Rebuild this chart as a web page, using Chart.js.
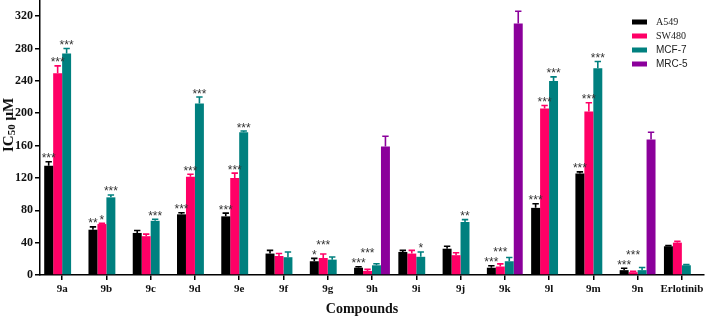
<!DOCTYPE html>
<html>
<head>
<meta charset="utf-8">
<script src="https://cdn.jsdelivr.net/npm/chart.js@4.4.1/dist/chart.umd.min.js"></script>
<style>
html,body{margin:0;padding:0;background:#fff;}
#wrap{width:707px;height:317px;}
</style>
</head>
<body>
<div id="wrap"><canvas id="c" width="707" height="317"></canvas></div>
<script>
const categories = ['9a','9b','9c','9d','9e','9f','9g','9h','9i','9j','9k','9l','9m','9n','Erlotinib'];
const yTicks = [0,40,80,120,160,200,240,280,320];

const a549     = [135, 56, 52, 75, 72.5, 26.5, 17, 9, 28.5, 32.5, 9, 83, 125.5, 6, 35.5];
const a549Err  = [5, 3.5, 3, 2, 4, 4, 3.5, 1.2, 2, 3, 2.5, 5, 2, 2.4, 0.8];
const a549Sig  = ['***','**','','***','***','','*','***','','','***','***','***','***',''];

const sw480    = [249.5, 63, 48, 121.5, 120, 23.5, 21, 5, 26.5, 24.5, 10.5, 206, 202, 3.5, 40];
const sw480Err = [9, 0.8, 2.5, 3, 6, 3, 5, 2, 4, 3, 3.3, 3.5, 11, 1.2, 1.6];
const sw480Sig = ['***','*','','***','***','','***','***','','','***','***','***','***',''];

const mcf7     = [274, 96, 67, 212, 176.5, 22, 19, 12, 22.5, 65.5, 17, 240, 255.5, 6, 12];
const mcf7Err  = [6, 3, 2, 8, 1.5, 6.5, 3.2, 2, 6, 3, 4.7, 5, 8.5, 3.3, 0.8];
const mcf7Sig  = ['***','***','***','***','***','','','','*','**','','***','***','',''];

const mrc5     = [null, null, null, null, null, null, null, 159, null, null, 311, null, null, 167.5, null];
const mrc5Err  = [null, null, null, null, null, null, null, 12.5, null, null, 15, null, null, 9, null];
const mrc5Sig  = ['','','','','','','','','','','','','','',''];

const seriesNames = ['A549','SW480','MCF-7','MRC-5'];
const colors = ['#000000','#FF0066','#00807F','#8B009B'];
const legendFonts = ['10px "Liberation Serif"','10px "Liberation Serif"','10px "Liberation Sans"','10px "Liberation Sans"'];

const values = [a549, sw480, mcf7, mrc5];
const errors = [a549Err, sw480Err, mcf7Err, mrc5Err];
const sigs = [a549Sig, sw480Sig, mcf7Sig, mrc5Sig];

const datasets = values.map((v,i)=>({
  label: seriesNames[i],
  data: v,
  errors: errors[i],
  sig: sigs[i],
  backgroundColor: colors[i],
  borderWidth: 0,
  categoryPercentage: 0.81,
  barPercentage: 1.0
}));

const errPlugin = {
  id: 'errbars',
  afterDatasetsDraw(chart){
    const ctx = chart.ctx, ys = chart.scales.y;
    const placed = {};
    chart.data.datasets.forEach((ds,i)=>{
      const meta = chart.getDatasetMeta(i);
      meta.data.forEach((el,j)=>{
        const v = ds.data[j];
        if (v == null) return;
        const e = ds.errors[j] || 0;
        const yTop = ys.getPixelForValue(v + e);
        ctx.save();
        ctx.strokeStyle = ds.backgroundColor;
        ctx.lineWidth = 1.6;
        ctx.beginPath();
        ctx.moveTo(el.x, el.y);
        ctx.lineTo(el.x, yTop);
        ctx.moveTo(el.x - 3.2, yTop);
        ctx.lineTo(el.x + 3.2, yTop);
        ctx.stroke();
        ctx.restore();
        const s = ds.sig[j];
        if (s) {
          ctx.save();
          ctx.font = '12px "Liberation Sans"';
          ctx.fillStyle = '#333';
          ctx.textAlign = 'center';
          ctx.textBaseline = 'alphabetic';
          const w = ctx.measureText(s).width;
          let y = yTop + 0.5;
          placed[j] = placed[j] || [];
          let moved = true;
          while (moved) {
            moved = false;
            for (const b of placed[j]) {
              const hOverlap = (el.x - w/2) < (b.x + b.w/2) && (el.x + w/2) > (b.x - b.w/2);
              if (hOverlap && Math.abs(y - b.y) < 9) { y = b.y - 10; moved = true; }
            }
          }
          placed[j].push({x: el.x, w: w, y: y});
          ctx.fillText(s, el.x, y);
          ctx.restore();
        }
      });
    });
  }
};

const decoPlugin = {
  id: 'deco',
  afterDraw(chart){
    const ctx = chart.ctx, ca = chart.chartArea;
    // legend
    ctx.save();
    chart.data.datasets.forEach((ds,i)=>{
      const yc = 22 + i*14;
      const bx = ca.right - 72;
      ctx.fillStyle = ds.backgroundColor;
      ctx.fillRect(bx, yc - 2.5, 15, 5);
      ctx.fillStyle = '#222';
      ctx.font = legendFonts[i];
      ctx.textAlign = 'left';
      ctx.textBaseline = 'middle';
      ctx.fillText(ds.label, bx + 24, yc + 0.5);
    });
    ctx.restore();
    // y title with subscript
    ctx.save();
    const cy = 125;
    ctx.translate(9, cy);
    ctx.rotate(-Math.PI/2);
    ctx.fillStyle = '#111';
    ctx.textBaseline = 'middle';
    const big = 'bold 15px "Liberation Serif"', small = 'bold 11px "Liberation Serif"';
    ctx.font = big; const w1 = ctx.measureText('IC').width; const w3 = ctx.measureText(' μM').width;
    ctx.font = small; const w2 = ctx.measureText('50').width;
    let x = -(w1 + w2 + w3)/2;
    ctx.font = big; ctx.textAlign = 'left'; ctx.fillText('IC', x, 0); x += w1;
    ctx.font = small; ctx.fillText('50', x, 3.5); x += w2;
    ctx.font = big; ctx.fillText(' μM', x, 0);
    ctx.restore();
    // x title
    ctx.save();
    ctx.font = 'bold 14px "Liberation Serif"';
    ctx.fillStyle = '#111';
    ctx.textAlign = 'center';
    ctx.textBaseline = 'middle';
    ctx.fillText('Compounds', (ca.left + ca.right)/2 - 10, 309);
    ctx.restore();
  }
};

new Chart(document.getElementById('c'), {
  type: 'bar',
  data: { labels: categories, datasets: datasets },
  options: {
    responsive: false,
    animation: false,
    devicePixelRatio: 1,
    layout: { padding: { top: 0, right: 3, left: 0, bottom: 0 } },
    plugins: { legend: { display: false }, tooltip: { enabled: false } },
    scales: {
      x: {
        type: 'category',
        offset: true,
        border: { display: true, color: '#000', width: 1.5 },
        grid: { display: true, offset: false, drawOnChartArea: false, drawTicks: true, tickLength: 5, color: '#000', lineWidth: 1.5 },
        ticks: { color: '#111', font: { family: '"Liberation Serif"', size: 11, weight: 'bold' }, padding: 3, maxRotation: 0, autoSkip: false },
        afterFit(s){ s.height = 42; s.paddingLeft = 0; s.paddingRight = 0; }
      },
      y: {
        min: 0, max: 340,
        border: { display: true, color: '#000', width: 1.5 },
        grid: { display: true, drawOnChartArea: false, drawTicks: true, tickLength: 5, color: '#000', lineWidth: 1.5 },
        ticks: { stepSize: 40, color: '#111', font: { family: '"Liberation Serif"', size: 12, weight: 'bold' }, padding: 2 },
        afterBuildTicks(s){ s.ticks = yTicks.map(v=>({value:v})); },
        afterFit(s){ s.width = 40; s.paddingTop = 0; s.paddingBottom = 0; }
      }
    }
  },
  plugins: [errPlugin, decoPlugin]
});
</script>
</body>
</html>
